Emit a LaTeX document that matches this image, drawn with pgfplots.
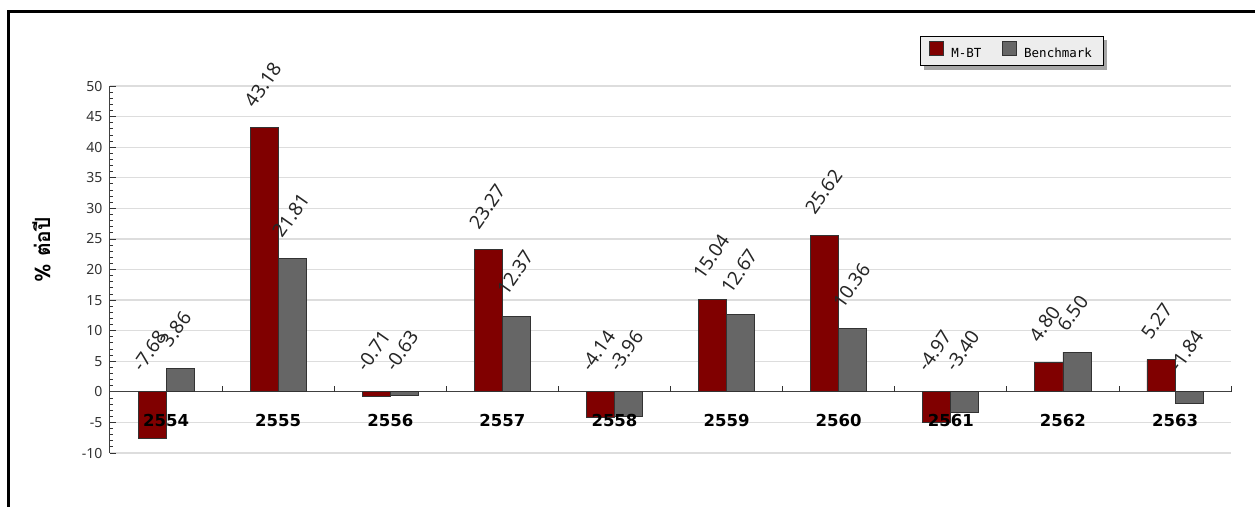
\documentclass[border=0pt]{standalone}
\usepackage{pgfplots}
\pgfplotsset{compat=1.18}
\usepackage{pgfplotstable}
\usepackage{fontspec}
\setmainfont{Noto Sans}
\newfontfamily\thaifont[Script=Thai]{Loma}
\newfontfamily\legfont{DejaVu Sans Mono}
\newfontfamily\catfont{DejaVu Sans}
\pgfdeclarelayer{shadowlayer}
\pgfsetlayers{shadowlayer,main}
\definecolor{mbt}{HTML}{800000}
\definecolor{bench}{HTML}{666666}
\definecolor{gridc}{HTML}{DDDDDD}

% yearly returns, % per year
\pgfplotstableread{
x year mbt bm
0 2554 -7.68 3.86
1 2555 43.18 21.81
2 2556 -0.71 -0.63
3 2557 23.27 12.37
4 2558 -4.14 -3.96
5 2559 15.04 12.67
6 2560 25.62 10.36
7 2561 -4.97 -3.40
8 2562 4.80 6.50
9 2563 5.27 -1.84
}\returns

\pgfplotsset{
  sq legend/.style={legend image code/.code={%
    \draw[##1, draw=black!80, line width=0.8pt] (0pt,-2.6pt) rectangle (14pt,11.4pt);}},
  value label/.style={draw=none, mark=none, forget plot, nodes near coords,
    point meta=explicit symbolic,
    every node near coord/.style={font=\fontsize{19}{19}\selectfont, text=black!85,
      inner sep=0pt, xshift=-9pt, yshift=19pt, rotate=55, anchor=south west}},
}

\begin{document}
\begin{tikzpicture}[x=1pt,y=1pt]
\begin{axis}[
  scale only axis, width=1121pt, height=367pt,
  xmin=-0.5, xmax=9.5, ymin=-10, ymax=50,
  axis y line=left, axis x line=middle,
  axis line style={-, draw=black!75, line width=1pt},
  ytick={-10,-5,...,50}, minor y tick num=4,
  ymajorgrids, grid style={gridc, line width=1.2pt},
  tick align=inside, major tick length=6pt, minor tick length=3.5pt,
  tick style={black!80, line width=0.8pt},
  yticklabel style={font=\fontsize{14}{14}\selectfont, text=black!80, xshift=-4pt},
  /pgf/number format/assume math mode=true,
  xtick=\empty,
  extra x ticks={0.5,1.5,...,9.5},
  extra x tick labels={},
  ylabel={\thaifont\bfseries\% ต่อปี},
  ylabel style={font=\fontsize{21}{21}\selectfont, at={(axis description cs:-0.061,0.553)}, anchor=center},
  legend columns=2,
  legend style={name=leg, at={(0.7226,1.136)}, anchor=north west, draw=black, line width=0.8pt,
    fill=black!7,
    font=\legfont\fontsize{12.5}{12.5}\selectfont, inner xsep=9pt, inner ysep=5pt,
    /tikz/every odd column/.append style={column sep=5pt},
    /tikz/every even column/.append style={column sep=19pt}},
]
\coordinate (O) at (rel axis cs:0,0);
\addplot[ybar, bar width=0.25, bar shift=-0.125, fill=mbt, draw=black!80, line width=0.8pt, sq legend]
  table[x=x, y=mbt] {\returns};
\addlegendentry{M-BT}
\addplot[ybar, bar width=0.25, bar shift=0.125, fill=bench, draw=black!80, line width=0.8pt, sq legend]
  table[x=x, y=bm] {\returns};
\addlegendentry{Benchmark}
% value labels, set above the bar or above the zero line
\addplot[value label]
  table[x expr={\thisrow{x}-0.125}, y expr={max(\thisrow{mbt},0)}, meta=mbt] {\returns};
\addplot[value label]
  table[x expr={\thisrow{x}+0.125}, y expr={max(\thisrow{bm},0)}, meta=bm] {\returns};
% year names, drawn over the bars
\addplot[draw=none, mark=none, forget plot, nodes near coords, point meta=explicit symbolic,
  every node near coord/.style={font=\catfont\bfseries\fontsize{16.5}{16.5}\selectfont,
    text=black, inner sep=0pt, anchor=north, yshift=-22pt}]
  table[x=x, y expr=0, meta=year] {\returns};
\end{axis}
\begin{pgfonlayer}{shadowlayer}
\fill[black!35] ([shift={(3.5,-3.5)}]leg.south west) rectangle ([shift={(3.5,-3.5)}]leg.north east);
\end{pgfonlayer}
\pgfresetboundingbox
\path[use as bounding box] ([shift={(-110,-53)}]O) rectangle ([shift={(1145,453)}]O);
\draw[line width=3pt] ([shift={(-101.3,-60)}]O) -- ([shift={(-101.3,441.7)}]O) -- ([shift={(1160,441.7)}]O);
\end{tikzpicture}
\end{document}
